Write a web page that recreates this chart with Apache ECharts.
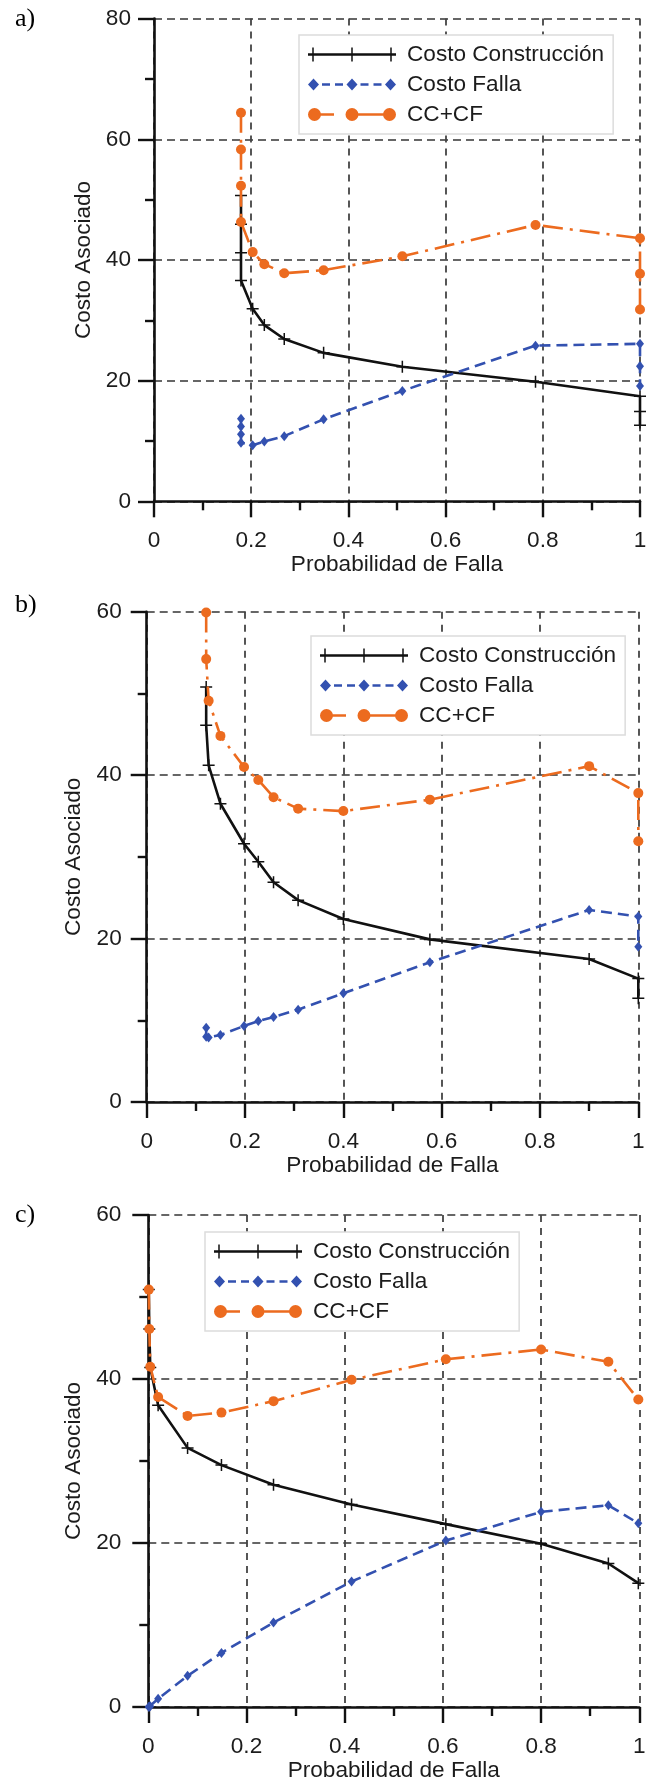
<!DOCTYPE html>
<html><head><meta charset="utf-8">
<script src="https://cdn.jsdelivr.net/npm/echarts@6/dist/echarts.min.js"></script>
<style>html,body{margin:0;padding:0;background:#fff}#c{width:651px;height:1783px}</style>
</head><body><div id="c"></div>
<script>
// ---- names / labels ----
const seriesNames = ['Costo Construcción', 'Costo Falla', 'CC+CF'];
const panelLabels = ['a)', 'b)', 'c)'];
const xAxisName = 'Probabilidad de Falla';
const yAxisName = 'Costo Asociado';
const xTicks = [0, 0.2, 0.4, 0.6, 0.8, 1];
const yTicksA = [0, 20, 40, 60, 80];
const yTicksB = [0, 20, 40, 60];
const yTicksC = [0, 20, 40, 60];

// ---- panel a ----
const probA  = [0.179, 0.179, 0.179, 0.179, 0.203, 0.227, 0.268, 0.349, 0.511, 0.785, 1.0, 1.0, 1.0];
const ccA    = [50.7, 45.9, 41.2, 36.6, 31.9, 29.2, 26.9, 24.6, 22.3, 19.8, 17.4, 14.9, 12.6];
const cfA    = [13.7, 12.4, 11.1, 9.7, 9.3, 9.9, 10.8, 13.6, 18.3, 25.8, 26.1, 22.4, 19.1];
const totalA = [64.4, 58.3, 52.3, 46.3, 41.3, 39.3, 37.8, 38.3, 40.6, 45.8, 43.6, 37.7, 31.8];

// ---- panel b ----
const probB  = [0.121, 0.121, 0.126, 0.150, 0.198, 0.227, 0.258, 0.308, 0.400, 0.576, 0.900, 1.0, 1.0];
const ccB    = [50.8, 46.1, 41.2, 36.5, 31.6, 29.4, 26.9, 24.7, 22.4, 19.9, 17.5, 15.1, 12.7];
const cfB    = [9.1, 8.0, 7.9, 8.2, 9.3, 9.9, 10.4, 11.3, 13.3, 17.1, 23.5, 22.7, 19.0];
const totalB = [59.9, 54.2, 49.1, 44.8, 41.0, 39.4, 37.3, 35.9, 35.6, 37.0, 41.1, 37.8, 31.9];

// ---- panel c ----
const probC  = [0.001, 0.002, 0.004, 0.020, 0.080, 0.149, 0.255, 0.414, 0.606, 0.800, 0.937, 0.998];
const ccC    = [50.9, 46.1, 41.4, 36.8, 31.6, 29.5, 27.1, 24.7, 22.3, 19.9, 17.5, 15.1];
const cfC    = [0.0, 0.05, 0.1, 1.0, 3.8, 6.6, 10.3, 15.3, 20.3, 23.8, 24.6, 22.4];
const totalC = [50.9, 46.1, 41.5, 37.8, 35.5, 35.9, 37.3, 39.9, 42.4, 43.6, 42.1, 37.5];

const panels = [
  {x: probA, cc: ccA, cf: cfA, tot: totalA, yt: yTicksA},
  {x: probB, cc: ccB, cf: cfB, tot: totalB, yt: yTicksB},
  {x: probC, cc: ccC, cf: cfC, tot: totalC, yt: yTicksC}
];

// ---- layout / style ----
const grids = [
  {left: 154, top: 18.6, width: 486, height: 482.7},
  {left: 146.7, top: 611.7, width: 491.6, height: 490.3},
  {left: 148.3, top: 1215, width: 491, height: 492}
];
const yLabelMargin = [23, 25, 27];
const legendPos = [{left: 299, top: 35}, {left: 311, top: 636}, {left: 205, top: 1232}];
const titlePos = [{left: 15, top: 6}, {left: 15, top: 592}, {left: 15, top: 1202}];

const FONT = '"Liberation Sans", Arial, Helvetica, sans-serif';
const FS = 22.6;
const TXT = '#1c1c1c';
const BLACK = '#111';
const BLUE = '#3351b0';
const ORANGE = '#ec6b1f';

const PLUS = 'path://M5.25,0h1.5v12h-1.5z M0,5.25h12v1.5h-12z';
const ICON_CC = 'path://M0,5.8h88v2.4h-88z M4.25,0h1.5v14h-1.5z M43.25,0h1.5v14h-1.5z M82.25,0h1.5v14h-1.5z';
const ICON_CF = 'path://M5.5,0L11,6L5.5,12L0,6z M44,0L49.5,6L44,12L38.5,6z M82.5,0L88,6L82.5,12L77,6z M14,4.8h8v2.4h-8z M27,4.8h8v2.4h-8z M52.5,4.8h8v2.4h-8z M65.5,4.8h8v2.4h-8z';
const ICON_TOT = 'path://M0,6.5a6.5,6.5 0 1,1 13,0a6.5,6.5 0 1,1 -13,0z M37.5,6.5a6.5,6.5 0 1,1 13,0a6.5,6.5 0 1,1 -13,0z M75,6.5a6.5,6.5 0 1,1 13,0a6.5,6.5 0 1,1 -13,0z M12,5.3h14v2.4h-14z M44,5.3h37.5v2.4h-37.5z';

const option = {
  animation: false,
  backgroundColor: '#fff',
  title: panelLabels.map((t, i) => ({
    text: t, left: titlePos[i].left, top: titlePos[i].top, padding: 0,
    textStyle: {fontFamily: '"Liberation Serif", "Times New Roman", serif', fontSize: 26, fontWeight: 'normal', color: '#000'}
  })),
  grid: grids.map(g => Object.assign({containLabel: false}, g)),
  legend: panels.map((p, i) => ({
    orient: 'vertical',
    left: legendPos[i].left, top: legendPos[i].top,
    itemWidth: 88, itemHeight: 14, itemGap: 7,
    padding: [8, 9, 8, 9],
    backgroundColor: '#fff', borderColor: '#dcdcdc', borderWidth: 1.5,
    itemStyle: {borderWidth: 0},
    textStyle: {fontFamily: FONT, fontSize: FS, color: TXT, padding: [0, 0, 0, 6]},
    data: [
      {name: seriesNames[0], icon: ICON_CC},
      {name: seriesNames[1], icon: ICON_CF},
      {name: seriesNames[2], icon: ICON_TOT}
    ]
  })),
  xAxis: panels.map((p, i) => ({
    type: 'value', gridIndex: i,
    min: xTicks[0], max: xTicks[xTicks.length - 1], interval: xTicks[1] - xTicks[0],
    name: xAxisName, nameLocation: 'middle', nameGap: 52,
    nameTextStyle: {fontFamily: FONT, fontSize: FS, color: TXT},
    axisLine: {show: true, onZero: false, lineStyle: {color: BLACK, width: 2.6}},
    axisTick: {show: true, inside: false, length: 16, lineStyle: {color: BLACK, width: 2.4}},
    minorTick: {show: true, splitNumber: 2, length: 9, lineStyle: {color: BLACK, width: 2.4}},
    axisLabel: {margin: 28, fontFamily: FONT, fontSize: FS, color: TXT},
    splitLine: {show: true, lineStyle: {color: '#444', width: 1.8, type: [7, 6]}}
  })),
  yAxis: panels.map((p, i) => ({
    type: 'value', gridIndex: i,
    min: p.yt[0], max: p.yt[p.yt.length - 1], interval: p.yt[1] - p.yt[0],
    name: yAxisName, nameLocation: 'middle', nameGap: 59,
    nameTextStyle: {fontFamily: FONT, fontSize: FS, color: TXT},
    axisLine: {show: true, onZero: false, lineStyle: {color: BLACK, width: 2.6}},
    axisTick: {show: true, inside: false, length: 16, lineStyle: {color: BLACK, width: 2.4}},
    minorTick: {show: true, splitNumber: 2, length: 9, lineStyle: {color: BLACK, width: 2.4}},
    axisLabel: {margin: yLabelMargin[i], fontFamily: FONT, fontSize: FS, color: TXT},
    splitLine: {show: true, lineStyle: {color: '#666', width: 2, type: [8, 5]}}
  })),
  series: []
};

panels.forEach((p, i) => {
  option.series.push({
    name: seriesNames[0], type: 'line', xAxisIndex: i, yAxisIndex: i,
    data: p.x.map((v, k) => [v, p.cc[k]]),
    symbol: PLUS, symbolSize: 12,
    itemStyle: {color: BLACK, borderWidth: 0},
    lineStyle: {color: BLACK, width: 2.6, type: 'solid'},
    z: 3
  });
  option.series.push({
    name: seriesNames[1], type: 'line', xAxisIndex: i, yAxisIndex: i,
    data: p.x.map((v, k) => [v, p.cf[k]]),
    symbol: 'diamond', symbolSize: [8, 10],
    itemStyle: {color: BLUE, borderWidth: 0},
    lineStyle: {color: BLUE, width: 2.6, type: [11, 6]},
    z: 4
  });
  option.series.push({
    name: seriesNames[2], type: 'line', xAxisIndex: i, yAxisIndex: i,
    data: p.x.map((v, k) => [v, p.tot[k]]),
    symbol: 'circle', symbolSize: 10,
    itemStyle: {color: ORANGE, borderWidth: 0},
    lineStyle: {color: ORANGE, width: 2.6, type: [20, 7, 3, 7]},
    z: 5
  });
});

const chart = echarts.init(document.getElementById('c'), null, {renderer: 'canvas'});
chart.setOption(option);
</script>
</body></html>
